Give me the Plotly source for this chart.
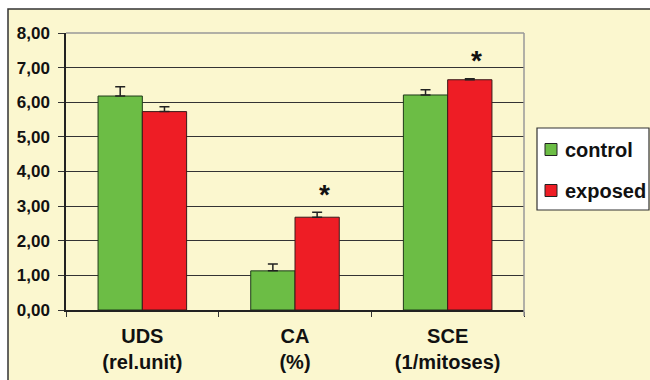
import plotly.graph_objects as go

categories = ["UDS", "CA", "SCE"]
cat_labels = ["UDS<br>(rel.unit)", "CA<br>(%)", "SCE<br>(1/mitoses)"]
series_names = ["control", "exposed"]
control = [6.18, 1.13, 6.21]
control_err = [0.27, 0.20, 0.15]
exposed = [5.73, 2.68, 6.65]
exposed_err = [0.14, 0.14, 0.03]
significant = [False, True, True]
y_ticks = [0, 1, 2, 3, 4, 5, 6, 7, 8]
y_tick_text = ["0,00", "1,00", "2,00", "3,00", "4,00", "5,00", "6,00", "7,00", "8,00"]

FONT = "Liberation Sans, Arial, sans-serif"
CREAM = "#FBF7CF"
GREEN = "#6CBD45"
RED = "#EE1D25"
COLORS = [GREEN, RED]
EDGES = ["#1F3A1A", "#3A1A1A"]

fig = go.Figure()
for name, vals, errs, col, edge in zip(series_names, [control, exposed], [control_err, exposed_err], COLORS, EDGES):
    fig.add_trace(go.Bar(
        x=categories, y=vals, name=name, showlegend=False,
        marker=dict(color=col, line=dict(color=edge, width=1)),
        error_y=dict(type="data", array=errs, arrayminus=[0]*len(errs), symmetric=False,
                     color="#222", thickness=1.5, width=5),
    ))

W, H = 650, 380
ml, mr, mt, mb = 66, 126, 33, 70
pw, ph = W - ml - mr, H - mt - mb

def px_x(p):
    return (p - ml) / pw

def px_y(p):
    return (H - mb - p) / ph

annotations = []
for c, v, e, s in zip(categories, exposed, exposed_err, significant):
    if s:
        annotations.append(dict(x=c, y=v + e, xref="x", yref="y", text="<b>*</b>",
                                showarrow=False, xshift=29, yshift=18,
                                font=dict(family=FONT, size=28, color="#111")))

shapes = [
    dict(type="rect", xref="paper", yref="paper", layer="below",
         x0=px_x(8), x1=px_x(W + 20), y0=px_y(H + 20), y1=px_y(9),
         fillcolor=CREAM, line=dict(color="#333", width=1.5)),
    dict(type="line", xref="paper", yref="paper", x0=1, x1=1, y0=-6 / ph, y1=1,
         line=dict(color="#999", width=1.5)),
    dict(type="line", xref="paper", yref="paper", x0=0, x1=1, y0=1, y1=1,
         line=dict(color="#999", width=1.5)),
    # legend box
    dict(type="rect", xref="paper", yref="paper",
         x0=px_x(537), x1=px_x(649), y0=px_y(210), y1=px_y(128),
         fillcolor="white", line=dict(color="#333", width=1.2)),
]
leg_y = [149.5, 190.5]
for name, col, edge, yy in zip(series_names, COLORS, EDGES, leg_y):
    shapes.append(dict(type="rect", xref="paper", yref="paper",
                       x0=px_x(545), x1=px_x(557), y0=px_y(yy + 6), y1=px_y(yy - 6),
                       fillcolor=col, line=dict(color="#222", width=1)))
    annotations.append(dict(x=px_x(563), y=px_y(yy), xref="paper", yref="paper",
                            xanchor="left", yanchor="middle", showarrow=False,
                            text=f"<b>{name}</b>",
                            font=dict(family=FONT, size=20, color="#111")))

fig.update_layout(
    width=W, height=H,
    margin=dict(l=ml, r=mr, t=mt, b=mb, autoexpand=False),
    paper_bgcolor="white", plot_bgcolor=CREAM,
    barmode="group", bargap=0.42, bargroupgap=0,
    font=dict(family=FONT, color="#111"),
    showlegend=False,
    xaxis=dict(tickmode="array", tickvals=categories, ticktext=[f"<b>{t}</b>" for t in cat_labels],
               tickson="boundaries", ticks="outside", ticklen=5, tickcolor="#333",
               showline=True, linecolor="#222", linewidth=1.5, showgrid=False,
               ticklabelstandoff=7,
               tickfont=dict(family=FONT, size=20, color="#111"), range=[-0.5, 2.5]),
    yaxis=dict(range=[0, 8], tickvals=y_ticks, ticktext=[f"<b>{t}</b>" for t in y_tick_text],
               ticks="outside", ticklen=6, tickcolor="#333",
               showline=True, linecolor="#222", linewidth=1.5,
               showgrid=True, gridcolor="#333", gridwidth=1, zeroline=False,
               ticklabelstandoff=5,
               tickfont=dict(family=FONT, size=17, color="#111")),
    annotations=annotations,
    shapes=shapes,
)

fig.write_html("out.html", config={"displayModeBar": False},
               post_script="document.body.style.margin='0';document.body.style.padding='0';")
